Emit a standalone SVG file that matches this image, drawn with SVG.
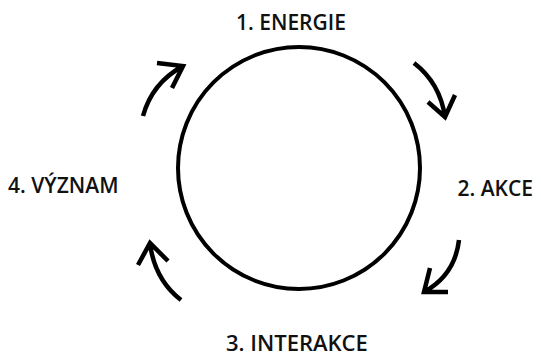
<svg xmlns="http://www.w3.org/2000/svg" width="541" height="357" viewBox="0 0 541 357">
<style>
.lbl{font-family:"Open Sans","Noto Sans",sans-serif;font-size:21px;font-weight:600;fill:#111;}
.ar{fill:none;stroke:#000;stroke-width:4.5;stroke-linecap:butt;stroke-linejoin:miter;}
</style>
<rect width="541" height="357" fill="#fff"/>
<g id="cycle"><circle cx="299" cy="168" r="121" fill="none" stroke="#000" stroke-width="4"/></g>
<g id="n1"><text class="lbl" x="236" y="30">1. ENERGIE</text></g>
<g id="n2"><text class="lbl" x="533" y="196" text-anchor="end">2. AKCE</text></g>
<g id="n3"><text class="lbl" x="226" y="351" style="font-size:22px">3. INTERAKCE</text></g>
<g id="n4"><text class="lbl" x="8" y="193">4. VÝZNAM</text></g>
<g id="connectors">
<path class="ar" d="M143,116 Q152,83 183,66 M157,63 L183,66 L172,88"/>
<path class="ar" d="M414,63 Q440,83 445,117 M428,102 L445,117 L455,95"/>
<path class="ar" d="M459,240 Q455,275 424,292 M430,268 L424,292 L448,292"/>
<path class="ar" d="M181,300 Q155,280 150,244 M138,265 L150,243 L168,261"/>
</g>
</svg>
